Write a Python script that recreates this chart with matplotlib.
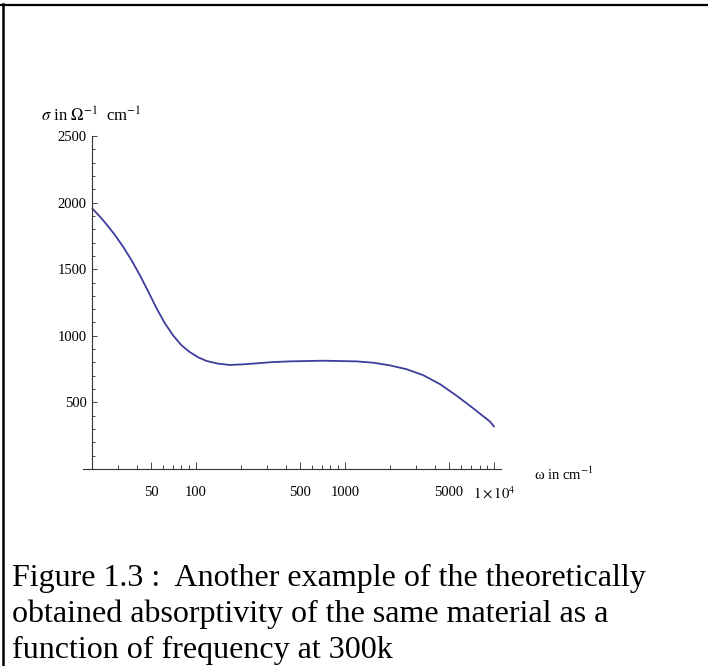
import matplotlib
matplotlib.use('Agg')
import matplotlib.pyplot as plt
from matplotlib.lines import Line2D

plt.rcParams['font.family'] = ['Liberation Serif', 'DejaVu Serif']
plt.rcParams['mathtext.fontset'] = 'stix'

# Leitfaehigkeit sigma(omega)
omega = [20.3, 22.6, 25.2, 28.6, 32.5, 37, 42, 47.9, 54.5, 61.9, 70.5, 80.2, 91, 104,
         118, 141, 169, 208, 255, 330, 427, 715, 1197, 1549, 2004, 2594, 3357,
         4345, 5620, 7270, 9400, 10000]
sigma = [1953, 1898, 1836, 1758, 1669, 1568, 1458, 1333, 1207, 1095, 1002, 928, 878, 838,
         811, 791, 781, 786, 793, 803, 808, 813, 808, 798, 778, 749, 704,
         637, 550, 455, 356, 320]

xmajor = [50, 100, 500, 1000, 5000, 10000]
xlabels = ['50', '100', '500', '1000', '5000', r'$1\times10^{4}$']
xminor = [20, 30, 40, 60, 70, 80, 90, 200, 300, 400, 600, 700, 800, 900,
          2000, 3000, 4000, 6000, 7000, 8000, 9000]
ymajor = [500, 1000, 1500, 2000, 2500]
yminor = [v for v in range(100, 2500, 100) if v % 500 != 0]

caption = ['Figure 1.3 :  Another example of the theoretically',
           'obtained absorptivity of the same material as a',
           'function of frequency at 300k']

W, H = 708, 666
fig = plt.figure(figsize=(W / 100, H / 100), dpi=100)

ax = fig.add_axes([83 / W, 1 - 469 / H, (501 - 83) / W, (469 - 136) / H])
ax.plot(omega, sigma, color='#3d3d9c', lw=1.3)

ax.set_xscale('log')
ax.set_xlim(17.5, 11150)
ax.set_ylim(0, 2500)
ax.spines['top'].set_visible(False)
ax.spines['right'].set_visible(False)
ax.spines['left'].set_position(('data', 20))
for s in ['left', 'bottom']:
    ax.spines[s].set_color('#333333')
    ax.spines[s].set_linewidth(0.8)

ax.set_xticks(xmajor)
ax.set_xticklabels(xlabels)
ax.set_xticks(xminor, minor=True)
ax.set_xticklabels([], minor=True)
ax.set_yticks(ymajor)
ax.set_yticks(yminor, minor=True)

ax.tick_params(axis='x', which='major', direction='in', length=5, width=0.7,
               color='#444444', labelsize=10.5, pad=12)
ax.tick_params(axis='x', which='minor', direction='in', length=2.8, width=0.7,
               color='#444444')
ax.tick_params(axis='y', which='major', direction='in', length=3.6, width=0.7,
               color='#444444', labelsize=10.5, pad=3.5)
ax.tick_params(axis='y', which='minor', direction='in', length=2, width=0.7,
               color='#444444')

# Achsenbeschriftungen wie in Mathematica
fig.text(41 / W, 1 - 122 / H, r'$\sigma$ in $\Omega^{-1}$  cm$^{-1}$',
         fontsize=12, ha='left', va='baseline')
fig.text(534 / W, 1 - 474 / H, 'ω in cm$^{-1}$', fontsize=10.5,
         ha='left', va='center')

# Rahmen
fig.add_artist(Line2D([0, 1], [1 - 5 / H, 1 - 5 / H], color='black', lw=1.6,
                      transform=fig.transFigure))
fig.add_artist(Line2D([3 / W, 3 / W], [0, 1 - 4 / H], color='black', lw=1.8,
                      transform=fig.transFigure))

# Bildunterschrift
for i, line in enumerate(caption):
    fig.text(12 / W, 1 - (586 + 36 * i) / H, line, fontsize=23,
             ha='left', va='baseline')

plt.savefig('out.png', dpi=100)
